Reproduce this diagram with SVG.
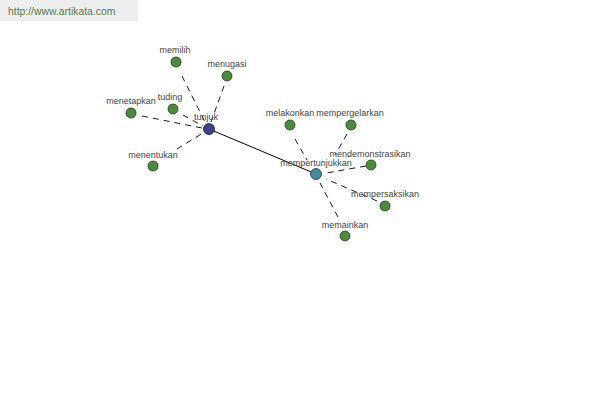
<svg xmlns="http://www.w3.org/2000/svg" width="600" height="400" viewBox="0 0 600 400">
<style>
.lbl{font-family:"Liberation Sans",Arial,sans-serif;font-size:9px;fill:#444;text-anchor:middle}
.leaf{fill:#4d8a3e;stroke:#1f3a1a;stroke-width:0.8}
.dash{stroke:#000;stroke-width:0.9;stroke-dasharray:6,5;fill:none}
</style>
<rect x="0" y="0" width="138" height="21" fill="#eeeeee"/>
<text x="8" y="15" font-family="Liberation Sans,Arial,sans-serif" font-size="10.4" fill="#5a7a4a">http://www.artikata.com</text>
<g id="connectors">
<line x1="209" y1="129" x2="316" y2="174" stroke="#000" stroke-width="1"/>
<line class="dash" x1="182" y1="76" x2="205" y2="122"/>
<line class="dash" x1="224" y1="86" x2="211" y2="122"/>
<line class="dash" x1="183" y1="115" x2="203" y2="126"/>
<line class="dash" x1="142" y1="116" x2="202" y2="128"/>
<line class="dash" x1="177" y1="149" x2="203" y2="133"/>
<line class="dash" x1="295" y1="139" x2="307" y2="160"/>
<line class="dash" x1="347" y1="134" x2="335" y2="155"/>
<line class="dash" x1="366" y1="166" x2="326" y2="173"/>
<line class="dash" x1="377" y1="201" x2="326" y2="179"/>
<line class="dash" x1="338" y1="217" x2="320" y2="183"/>
</g>
<g id="tunjuk"><circle cx="209" cy="129" r="5.5" fill="#3f3f8c" stroke="#1a1a40" stroke-width="0.8"/><text class="lbl" x="206" y="120">tunjuk</text></g>
<g id="mempertunjukkan"><circle cx="316" cy="174" r="5.5" fill="#4a8a9a" stroke="#1a3a40" stroke-width="0.8"/><text class="lbl" x="316" y="166">mempertunjukkan</text></g>
<g id="memilih"><circle class="leaf" cx="176" cy="62" r="5"/><text class="lbl" x="175" y="53">memilih</text></g>
<g id="menugasi"><circle class="leaf" cx="227" cy="76" r="5"/><text class="lbl" x="227" y="67">menugasi</text></g>
<g id="tuding"><circle class="leaf" cx="173" cy="109" r="5"/><text class="lbl" x="170" y="100">tuding</text></g>
<g id="menetapkan"><circle class="leaf" cx="131" cy="113" r="5"/><text class="lbl" x="131" y="104">menetapkan</text></g>
<g id="menentukan"><circle class="leaf" cx="153" cy="166" r="5"/><text class="lbl" x="153" y="158">menentukan</text></g>
<g id="melakonkan"><circle class="leaf" cx="290" cy="125" r="5"/><text class="lbl" x="290" y="116">melakonkan</text></g>
<g id="mempergelarkan"><circle class="leaf" cx="351" cy="125" r="5"/><text class="lbl" x="350" y="116">mempergelarkan</text></g>
<g id="mendemonstrasikan"><circle class="leaf" cx="371" cy="165" r="5"/><text class="lbl" x="370" y="157">mendemonstrasikan</text></g>
<g id="mempersaksikan"><circle class="leaf" cx="385" cy="206" r="5"/><text class="lbl" x="385" y="197">mempersaksikan</text></g>
<g id="memainkan"><circle class="leaf" cx="345" cy="236" r="5"/><text class="lbl" x="345" y="228">memainkan</text></g>
</svg>
